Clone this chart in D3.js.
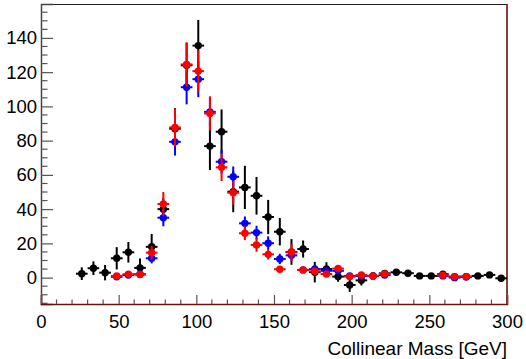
<!DOCTYPE html>
<html><head><meta charset="utf-8">
<script src="https://cdn.jsdelivr.net/npm/d3@7"></script>
<style>html,body{margin:0;padding:0;background:#fff;}svg{display:block;}</style>
</head><body>
<script>
// Bin centres (GeV), bin width 7.5
const binCenters = d3.range(37).map(i => 26.25 + 7.5 * i);
const binHalfWidth = 3.75;

// Black series (values, errors)
const blackVals = [2.3,5.5,2.9,11.3,14.8,5.7,18,40,87,124,135.5,76.8,85.2,50.2,52.7,47.8,35.4,26.8,15,16.7,3.2,5,0.6,-4.3,-1.6,1,2.5,3.1,2.6,1,1,2,0.5,0.5,1,1.6,-0.4];
const blackErrs = [3.7,4,4.5,6.5,6,5.5,7.5,6.5,12,13,15,14,13,12,12.6,11,10,8,7.5,5,6,4,3,4,3,1.5,1.5,1.5,1.5,1,1,1.5,1,1,1,1,1];

// Blue series
const blueVals = [null,null,null,0.5,1.5,2,11.3,35,79.3,111.2,115.9,96.8,67.7,58.9,31.7,26.3,20.1,10.9,13,4.5,5,4,4,1,1,1,1.5,null,null,null,null,1,0,0.5,null,null,null];
const blueErrs = [0,0,0,0.6,0.8,1,3,5,8,10,10.5,8,7,6,4,4,4,3,3,1.5,2,1.5,1.5,1,1,1,1,0,0,0,0,1,1,1,0,0,0];

// Red series
const redVals = [null,null,null,1,2,1.8,14.6,43,87.7,124.5,120.6,95.9,64.4,49.6,25.9,19.1,13.6,4.9,14.8,4.5,3.7,2.1,5.3,0.6,1.5,1,2.2,null,null,null,null,1.4,0.6,0.6,null,null,null];
const redErrs = [0,0,0,0.8,0.8,1,4,7,11,13,12,10,8,7,4,4,3,1,5,1,1,1,1,1,1,1,1,0,0,0,0,1,1,1,0,0,0];

const xMajorTicks = [0,50,100,150,200,250,300];
const yMajorTicks = [0,20,40,60,80,100,120,140];
const xTitle = "Collinear Mass [GeV]";

const W = 526, H = 359;
const pLeft = 41, pRight = 507, pTop = 4, pBottom = 304;

const svg = d3.select("body").append("svg").attr("width", W).attr("height", H);
const x = d3.scaleLinear().domain([0, 300]).range([pLeft, pRight]);
const y = d3.scaleLinear().domain([-15.4, 159.8]).range([pBottom, pTop]);

const font = "'Liberation Sans', Arial, Helvetica, sans-serif";

// Frame
svg.append("line").attr("x1", pLeft).attr("x2", pRight).attr("y1", pTop + 0.5).attr("y2", pTop + 0.5)
  .attr("stroke", "#222").attr("stroke-width", 1.2);
svg.append("line").attr("x1", pRight).attr("x2", pRight).attr("y1", pTop).attr("y2", pBottom)
  .attr("stroke", "#6b1010").attr("stroke-width", 1.6);

// Y axis (ticks inward)
const yAxis = d3.axisRight(y).tickValues(yMajorTicks).tickSize(12).tickFormat(d3.format("d"));
const gy = svg.append("g").attr("transform", `translate(${pLeft},0)`).call(yAxis);
gy.select(".domain").attr("stroke", "#444").attr("stroke-width", 1.5);
gy.selectAll(".tick line").attr("stroke", "#555").attr("stroke-width", 1.2);
gy.selectAll(".tick text").attr("x", -4).attr("text-anchor", "end")
  .style("font-family", font).style("font-size", "18.5px").attr("fill", "#000");
const yMinor = d3.range(-15, 160, 5).filter(v => v % 20 !== 0);
svg.append("g").selectAll("line").data(yMinor).join("line")
  .attr("x1", pLeft).attr("x2", pLeft + 6.5).attr("y1", d => y(d)).attr("y2", d => y(d))
  .attr("stroke", "#555").attr("stroke-width", 1.2);

// X axis (ticks inward)
const xAxis = d3.axisTop(x).tickValues(xMajorTicks).tickSize(9).tickFormat(d3.format("d"));
const gx = svg.append("g").attr("transform", `translate(0,${pBottom})`).call(xAxis);
gx.select(".domain").attr("stroke", "#6b1010").attr("stroke-width", 1.6);
gx.selectAll(".tick line").attr("stroke", "#555").attr("stroke-width", 1.2);
gx.selectAll(".tick text").attr("y", 24).attr("dy", 0)
  .style("font-family", font).style("font-size", "18.5px").attr("fill", "#000");
const xMinor = d3.range(10, 300, 10).filter(v => v % 50 !== 0);
svg.append("g").selectAll("line").data(xMinor).join("line")
  .attr("x1", d => x(d)).attr("x2", d => x(d)).attr("y1", pBottom).attr("y2", pBottom - 4.5)
  .attr("stroke", "#555").attr("stroke-width", 1.2);

// X title
svg.append("text").attr("x", pRight).attr("y", 355).attr("text-anchor", "end")
  .style("font-family", font).style("font-size", "19px").attr("fill", "#000").text(xTitle);

// Series
function drawSeries(vals, errs, color) {
  const pts = binCenters.map((c, i) => ({c, v: vals[i], e: errs[i]})).filter(d => d.v !== null);
  const g = svg.append("g");
  g.selectAll("line.h").data(pts).join("line").attr("class", "h")
    .attr("x1", d => x(d.c - binHalfWidth)).attr("x2", d => x(d.c + binHalfWidth))
    .attr("y1", d => y(d.v)).attr("y2", d => y(d.v))
    .attr("stroke", color).attr("stroke-width", 2);
  g.selectAll("line.v").data(pts).join("line").attr("class", "v")
    .attr("x1", d => x(d.c)).attr("x2", d => x(d.c))
    .attr("y1", d => y(d.v - d.e)).attr("y2", d => y(d.v + d.e))
    .attr("stroke", color).attr("stroke-width", 2);
  g.selectAll("circle").data(pts).join("circle")
    .attr("cx", d => x(d.c)).attr("cy", d => y(d.v)).attr("r", 3.7).attr("fill", color);
}
drawSeries(blackVals, blackErrs, "#000000");
drawSeries(blueVals, blueErrs, "#0000ff");
drawSeries(redVals, redErrs, "#ff0000");
</script>
</body></html>
